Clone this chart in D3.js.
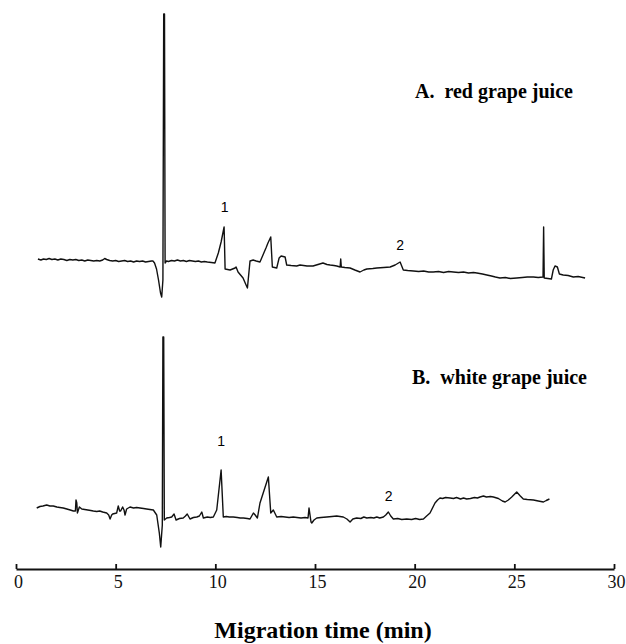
<!DOCTYPE html>
<html>
<head>
<meta charset="utf-8">
<script src="https://cdn.jsdelivr.net/npm/d3@7"></script>
<style>
  body { margin: 0; background: #fff; }
  svg { display: block; }
  .trace { fill: none; stroke: #111; stroke-width: 1.4; stroke-linejoin: round; }
  .axis path, .axis line { stroke: #111; stroke-width: 1.8; }
  .panel-title { font-family: "Liberation Serif", serif; font-weight: bold; font-size: 20px; white-space: pre; }
  .peak { font-family: "Liberation Sans", sans-serif; font-size: 14px; }
</style>
</head>
<body>
<div class="chart"></div>
<script>
// [migration time (min), detector signal (a.u.)]
var traceA = [
  [1.10,0.01],[1.25,0.00],[1.38,0.01],[1.52,0.005],[1.66,0.015],[1.80,0.005],[1.95,0.01],[2.10,0.0],
  [2.25,0.01],[2.40,0.005],[2.55,-0.005],[2.70,0.005],[2.85,0.0],[3.00,0.005],[3.15,-0.005],[3.30,0.0],
  [3.45,-0.01],[3.60,0.0],[3.75,-0.005],[3.90,-0.01],[4.05,-0.005],[4.20,-0.01],[4.35,0.0],[4.45,0.015],
  [4.55,0.005],[4.70,-0.005],[4.85,-0.01],[5.00,-0.005],[5.15,-0.015],[5.30,-0.01],[5.45,-0.005],[5.60,-0.015],
  [5.75,-0.01],[5.90,-0.02],[6.05,-0.01],[6.20,-0.015],[6.35,-0.01],[6.50,-0.02],[6.65,-0.015],[6.80,-0.01],
  [6.87,-0.01],[6.95,-0.03],[7.05,-0.09],[7.15,-0.2],[7.25,-0.33],[7.31,-0.37],[7.37,-0.2],[7.41,2.46],
  [7.45,2.46],[7.48,-0.03],[7.55,-0.01],[7.65,-0.015],[7.80,-0.005],[7.95,-0.01],[8.10,0.0],[8.25,-0.01],
  [8.40,-0.005],[8.55,-0.015],[8.70,-0.005],[8.85,-0.01],[9.00,-0.015],[9.15,-0.01],[9.30,-0.02],[9.45,-0.015],
  [9.60,-0.02],[9.80,-0.025],[9.98,-0.03],[10.15,0.07],[10.29,0.18],[10.44,0.33],[10.49,-0.09],[10.74,-0.1],
  [10.99,-0.08],[11.04,-0.07],[11.14,-0.12],[11.39,-0.18],[11.52,-0.24],[11.61,-0.28],[11.74,-0.01],[11.90,0.0],
  [12.05,-0.01],[12.24,-0.02],[12.39,0.05],[12.54,0.12],[12.64,0.17],[12.78,0.23],[12.86,-0.07],[13.08,-0.08],
  [13.20,0.02],[13.30,0.04],[13.50,0.03],[13.58,-0.05],[13.80,-0.055],[14.08,-0.06],[14.25,-0.05],[14.60,-0.06],
  [14.90,-0.06],[15.15,-0.045],[15.40,-0.03],[15.60,-0.045],[15.76,-0.05],[15.95,-0.055],[16.09,-0.06],[16.26,-0.07],
  [16.29,0.01],[16.32,-0.07],[16.50,-0.075],[16.76,-0.08],[17.00,-0.1],[17.26,-0.12],[17.45,-0.1],[17.60,-0.09],
  [17.90,-0.085],[18.10,-0.08],[18.45,-0.075],[18.77,-0.07],[19.02,-0.05],[19.27,-0.02],[19.43,-0.10],[19.65,-0.105],
  [19.94,-0.11],[20.20,-0.115],[20.45,-0.11],[20.70,-0.12],[20.93,-0.12],[21.20,-0.115],[21.45,-0.125],[21.70,-0.115],
  [21.94,-0.12],[22.20,-0.125],[22.45,-0.12],[22.70,-0.13],[22.95,-0.125],[23.12,-0.13],[23.40,-0.14],[23.62,-0.15],
  [23.85,-0.16],[24.05,-0.17],[24.28,-0.18],[24.55,-0.175],[24.80,-0.185],[25.12,-0.18],[25.40,-0.175],[25.65,-0.17],
  [25.96,-0.17],[26.20,-0.175],[26.44,-0.17],[26.47,0.33],[26.50,-0.18],[26.86,-0.19],[26.95,-0.10],[27.04,-0.06],
  [27.16,-0.07],[27.26,-0.14],[27.45,-0.15],[27.70,-0.155],[27.96,-0.17],[28.20,-0.165],[28.55,-0.18]
];

var traceB = [
  [1.04,0.07],[1.20,0.085],[1.35,0.09],[1.54,0.10],[1.70,0.09],[1.87,0.09],[2.05,0.08],[2.20,0.075],
  [2.37,0.07],[2.55,0.06],[2.72,0.05],[2.88,0.04],[2.98,0.04],[3.01,0.15],[3.05,0.12],[3.08,0.02],
  [3.18,0.08],[3.30,0.06],[3.45,0.055],[3.60,0.05],[3.75,0.045],[3.88,0.04],[4.05,0.035],[4.20,0.04],
  [4.35,0.03],[4.55,0.02],[4.65,0.0],[4.72,-0.04],[4.80,0.0],[4.85,0.01],[5.05,0.02],[5.13,0.09],
  [5.20,0.04],[5.25,0.04],[5.35,0.08],[5.42,0.05],[5.47,0.0],[5.55,0.06],[5.72,0.08],[5.90,0.07],
  [6.05,0.075],[6.22,0.07],[6.40,0.065],[6.55,0.06],[6.72,0.055],[6.89,0.05],[7.06,0.0],[7.19,-0.18],
  [7.26,-0.32],[7.34,-0.1],[7.37,1.78],[7.41,1.78],[7.44,-0.05],[7.56,-0.03],[7.70,-0.025],[7.81,-0.02],
  [7.93,0.01],[8.03,-0.05],[8.20,-0.035],[8.39,-0.03],[8.50,-0.01],[8.59,0.01],[8.73,-0.04],[8.90,-0.025],
  [9.07,-0.02],[9.20,-0.01],[9.32,0.03],[9.40,-0.03],[9.60,-0.02],[9.75,-0.025],[9.90,-0.02],[10.07,0.05],
  [10.29,0.45],[10.40,-0.02],[10.55,-0.015],[10.70,-0.02],[10.90,-0.02],[11.10,-0.025],[11.25,-0.03],[11.41,-0.03],
  [11.60,-0.035],[11.74,-0.04],[11.91,0.02],[12.00,0.0],[12.11,-0.03],[12.24,0.12],[12.45,0.25],[12.66,0.38],
  [12.78,0.02],[12.91,0.05],[13.08,-0.02],[13.30,-0.015],[13.50,-0.02],[13.70,-0.025],[13.91,-0.02],[14.10,-0.025],
  [14.30,-0.03],[14.50,-0.025],[14.65,-0.03],[14.70,0.07],[14.80,-0.07],[14.84,-0.08],[14.95,-0.05],[15.09,-0.03],
  [15.30,-0.025],[15.59,-0.02],[15.85,-0.015],[16.09,-0.01],[16.25,-0.015],[16.42,-0.02],[16.60,-0.04],[16.76,-0.07],
  [16.90,-0.04],[17.09,-0.03],[17.30,-0.035],[17.45,-0.02],[17.60,-0.03],[17.80,-0.025],[17.95,-0.03],[18.10,-0.02],
  [18.25,-0.03],[18.43,-0.02],[18.55,0.0],[18.68,0.03],[18.80,-0.01],[18.93,-0.04],[19.15,-0.035],[19.35,-0.045],
  [19.60,-0.04],[19.85,-0.045],[20.05,-0.035],[20.25,-0.045],[20.44,-0.04],[20.60,-0.01],[20.77,0.02],[21.02,0.12],
  [21.15,0.15],[21.27,0.17],[21.40,0.165],[21.55,0.175],[21.78,0.17],[21.95,0.165],[22.10,0.175],[22.30,0.16],
  [22.45,0.17],[22.61,0.16],[22.80,0.165],[23.00,0.175],[23.15,0.17],[23.28,0.18],[23.45,0.19],[23.60,0.18],
  [23.80,0.185],[23.95,0.18],[24.20,0.165],[24.40,0.14],[24.54,0.13],[24.70,0.15],[24.87,0.18],[25.12,0.23],
  [25.30,0.19],[25.45,0.16],[25.65,0.155],[25.96,0.15],[26.20,0.14],[26.46,0.13],[26.60,0.145],[26.76,0.16]
];

var peaksA = [{ label: '1', t: 10.47, v: 0.48 }, { label: '2', t: 19.27, v: 0.10 }];
var peaksB = [{ label: '1', t: 10.29, v: 0.69 }, { label: '2', t: 18.70, v: 0.14 }];

var panelTitles = ['A.  red grape juice', 'B.  white grape juice'];
var timeTicks = [0, 5, 10, 15, 20, 25, 30];
var xLabel = 'Migration time (min)';

function init() {
  var width = 626,
      height = 644,
      axisY = 569;

  var svg = d3.select('.chart')
    .append('svg')
      .attr('width', width)
      .attr('height', height);

  var x = d3.scaleLinear().domain([0, 30]).range([16, 614]);

  var panels = [
    { data: traceA, peaks: peaksA, title: panelTitles[0], y: d3.scaleLinear().domain([-0.4, 2.5]).range([300, 10]), tx: 415, ty: 98 },
    { data: traceB, peaks: peaksB, title: panelTitles[1], y: d3.scaleLinear().domain([-0.4, 2.5]).range([555, 265]), tx: 412, ty: 384 }
  ];

  panels.forEach(function(p) {
    var line = d3.line()
      .x(function(d) { return x(d[0]); })
      .y(function(d) { return p.y(d[1]); });

    svg.append('path')
      .datum(p.data)
      .attr('class', 'trace')
      .attr('d', line);

    svg.selectAll(null)
      .data(p.peaks)
      .enter()
      .append('text')
        .attr('class', 'peak')
        .attr('text-anchor', 'middle')
        .attr('x', function(d) { return x(d.t); })
        .attr('y', function(d) { return p.y(d.v); })
        .text(function(d) { return d.label; });

    svg.append('text')
      .attr('class', 'panel-title')
      .attr('x', p.tx)
      .attr('y', p.ty)
      .text(p.title);
  });

  var axis = d3.axisBottom(x)
    .tickValues(timeTicks)
    .tickSizeInner(-5)
    .tickSizeOuter(0)
    .tickPadding(6)
    .tickFormat(d3.format('d'));

  var gAxis = svg.append('g')
    .attr('class', 'axis')
    .attr('transform', 'translate(0,' + axisY + ')')
    .call(axis);

  gAxis.selectAll('text')
    .attr('x', 2)
    .style('font-family', '"Liberation Serif", serif')
    .style('font-size', '18px')
    .style('fill', '#111');

  svg.append('text')
    .attr('x', 323)
    .attr('y', 638)
    .attr('text-anchor', 'middle')
    .style('font-family', '"Liberation Serif", serif')
    .style('font-weight', 'bold')
    .style('font-size', '24px')
    .text(xLabel);
}

d3.select(window).on('load', init);
</script>
</body>
</html>
